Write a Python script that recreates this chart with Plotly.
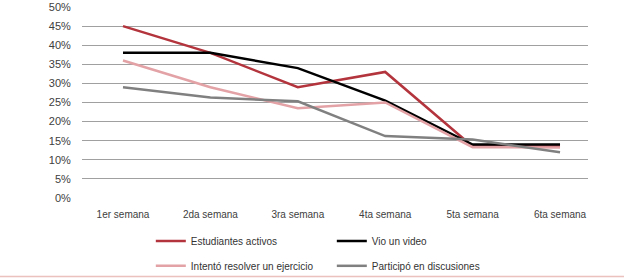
import plotly.graph_objects as go

weeks = ["1er semana", "2da semana", "3ra semana", "4ta semana", "5ta semana", "6ta semana"]
activos = [45, 38, 29, 33, 13.5, 13.5]
video = [38, 38, 34, 25.5, 14, 14]
ejercicio = [36, 29, 23.5, 25, 13.3, 13.2]
discusiones = [29, 26.3, 25.3, 16.2, 15.3, 12]
yticks = [0, 5, 10, 15, 20, 25, 30, 35, 40, 45, 50]
ytext = [f"{v}%" for v in yticks]

FONT = "Liberation Sans, Arial, sans-serif"

fig = go.Figure()
series = [
    ("Estudiantes activos", activos, "#b3343c", "legend"),
    ("Vio un video", video, "#000000", "legend"),
    ("Intentó resolver un ejercicio", ejercicio, "#e3a2a6", "legend2"),
    ("Participó en discusiones", discusiones, "#808080", "legend2"),
]
for name, vals, col, lg in series:
    fig.add_trace(go.Scatter(x=weeks, y=vals, name=name, mode="lines",
                             line=dict(color=col, width=2.5), legend=lg))

leg_common = dict(orientation="h", xanchor="left", yanchor="middle",
                  font=dict(family=FONT, size=10, color="#333333"),
                  entrywidth=136, entrywidthmode="pixels",
                  bgcolor="rgba(0,0,0,0)", traceorder="normal")

fig.update_layout(
    template="simple_white",
    width=624, height=279,
    margin=dict(l=82, r=36, t=7, b=81, autoexpand=False),
    plot_bgcolor="white", paper_bgcolor="white",
    font=dict(family=FONT, size=10, color="#404040"),
    showlegend=True,
    legend=dict(x=0.136, y=-0.225, **leg_common),
    legend2=dict(x=0.136, y=-0.355, **leg_common),
    xaxis=dict(type="category", range=[-0.469, 5.32], showgrid=False,
               showline=False, zeroline=False, ticks="outside", ticklen=7,
               tickcolor="rgba(0,0,0,0)", tickfont=dict(size=10, color="#404040")),
    yaxis=dict(range=[0, 50], tickvals=yticks, ticktext=ytext, showgrid=True,
               gridcolor="#a0a0a0", gridwidth=1, zeroline=False, showline=False,
               ticks="outside", ticklen=8, tickcolor="rgba(0,0,0,0)",
               tickfont=dict(size=11, color="#404040")),
    shapes=[dict(type="line", xref="paper", yref="paper", x0=-0.17, x1=1.08,
                 y0=-0.411, y1=-0.411, layer="above",
                 line=dict(color="#c0392b", width=1.5))],
)

fig.write_html("out.html", config={"displayModeBar": False},
               post_script="document.body.style.margin='0px';")
